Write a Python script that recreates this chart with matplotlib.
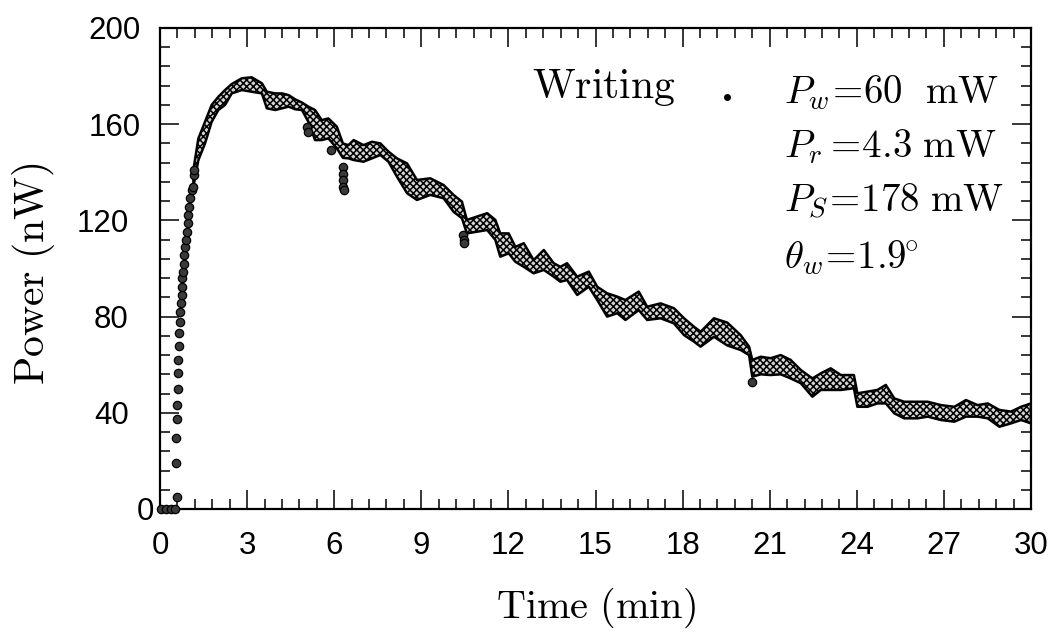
import matplotlib
matplotlib.use('Agg')
import matplotlib.pyplot as plt
from matplotlib.ticker import MultipleLocator, FixedLocator
import matplotlib.transforms as mtransforms

plt.rcParams['mathtext.fontset'] = 'cm'
plt.rcParams['hatch.linewidth'] = 1.1

# ---- data ----
rise_t = [0.02, 0.20, 0.37, 0.53, 0.57, 0.54, 0.54, 0.59, 0.59, 0.61, 0.63, 0.63,
          0.66, 0.66, 0.69, 0.69, 0.72, 0.75, 0.75, 0.77, 0.79, 0.82, 0.84, 0.86,
          0.89, 0.92, 0.95, 0.98, 1.01, 1.05, 1.09, 1.13, 1.18, 1.18]
rise_p = [0, 0, 0, 0, 5, 19.3, 29.6, 37.3, 43.2, 49.8, 56.4, 62,
          67.9, 73.3, 77.9, 82, 85.8, 89, 92.4, 95.9, 98.7, 102, 105.6, 108.8,
          111.9, 115.3, 118.8, 122.2, 125.7, 129.2, 132.6, 134, 138.9, 141]

band_t = [1.15, 1.32, 1.55, 1.78, 2.01, 2.24, 2.47, 2.82, 3.16, 3.51, 3.68, 3.97,
          4.20, 4.43, 4.66, 4.89, 5.11, 5.34, 5.57, 5.80, 6.09, 6.30, 6.49, 6.67,
          7.01, 7.30, 7.59, 7.87, 8.16, 8.51, 8.85, 9.31, 9.77, 10.11, 10.40, 10.57,
          10.92, 11.27, 11.55, 11.72, 12.01, 12.24, 12.53, 12.87, 13.22, 13.56, 13.79, 14.02,
          14.37, 14.77, 15.06, 15.40, 15.75, 16.03, 16.49, 16.78, 17.24, 17.70, 18.05, 18.39,
          18.62, 19.08, 19.54, 20.00, 20.29, 20.40, 20.69, 21.03, 21.38, 21.72, 22.07, 22.47,
          22.76, 23.10, 23.45, 23.90, 24.02, 24.37, 24.71, 25.00, 25.29, 25.63, 26.09, 26.44,
          26.90, 27.36, 27.76, 28.16, 28.51, 28.91, 29.31, 29.66, 30.00]
band_hi = [141, 154, 161, 168, 171.4, 174.2, 176.7, 179.1, 179.5, 177, 173.5, 172.8,
           172.8, 172.1, 170.3, 169, 167.3, 165.9, 161.7, 162.4, 159, 152, 151.3, 153.4,
           151.3, 152.7, 152, 148.6, 145.8, 143.7, 136.8, 137.5, 134.7, 130.6, 127.8, 120.2,
           121.6, 123, 120.2, 114.6, 114.6, 109, 110.5, 103.5, 107.7, 102.2, 100.7, 102.2,
           96.6, 98.7, 92.4, 89.7, 88.3, 86.9, 90.4, 84.1, 85.5, 83.5, 79.3, 75.8,
           73.7, 79.3, 77.5, 72.3, 67.5, 62, 63.3, 62.7, 64, 62, 57.8, 54.3,
           56.4, 58.5, 55.7, 55.7, 48.1, 48.8, 49.5, 51.6, 46, 44.6, 44.6, 44.6,
           43.2, 42.5, 45.3, 43.2, 43.9, 41.2, 40.5, 42.5, 43.9]
band_lo = [134, 145, 152, 161, 165.9, 168, 172.8, 174.2, 173.5, 172.8, 166.6, 165.9,
           166.6, 167.3, 166.2, 165.9, 161, 153.4, 153.4, 154.1, 150, 146, 145.8, 145.1,
           144.4, 145.8, 147.2, 144.4, 138.2, 131.3, 128.5, 130.6, 129.2, 123.6, 120.9, 114.6,
           115.3, 116, 111.9, 104.9, 106.3, 102.8, 100.7, 98, 99.4, 96.6, 94.5, 95.2,
           89, 92.4, 86.9, 80, 81.4, 78.6, 82.7, 78.6, 79.3, 77.2, 72.3, 69.6,
           67.5, 71.6, 68, 66.1, 64, 55, 56, 55.7, 56, 54.3, 52.3, 46.7,
           49.5, 49.5, 49.5, 50.2, 42.5, 42.5, 43.9, 43.9, 39.8, 37.7, 37.7, 38.4,
           37, 36.3, 38.4, 38.4, 37.7, 34.2, 35.6, 37, 35.6]

out_t = [5.05, 5.09, 5.90, 6.30, 6.30, 6.31, 6.32, 6.33, 10.45, 10.46, 10.46, 20.40]
out_p = [159, 156.9, 149.3, 142.3, 139.5, 136.8, 134, 132.6, 114, 112, 110.5, 52.6]

x_ticks = [0, 3, 6, 9, 12, 15, 18, 21, 24, 27, 30]
y_ticks = [0, 40, 80, 120, 160, 200]

# ---- figure ----
fig = plt.figure(figsize=(10.55, 6.35), dpi=100)
ax = fig.add_axes([160 / 1055, 1 - 509 / 635, 871 / 1055, 481 / 635])

ax.fill_between(band_t, band_lo, band_hi, facecolor='#d4d4d4', edgecolor='black',
                hatch='xxxxx', linewidth=1.8, joinstyle='round', zorder=2)
ax.plot(rise_t, rise_p, 'o', ms=6, mfc='#3a3a3a', mec='black', mew=0.9,
        clip_on=False, zorder=3)
ax.plot(out_t, out_p, 'o', ms=6, mfc='#3a3a3a', mec='black', mew=0.9, zorder=3)

ax.set_xlim(0, 30)
ax.set_ylim(0, 200)
ax.xaxis.set_major_locator(FixedLocator(x_ticks))
ax.yaxis.set_major_locator(FixedLocator(y_ticks))
ax.xaxis.set_minor_locator(MultipleLocator(0.6))
ax.yaxis.set_minor_locator(MultipleLocator(8))
ax.set_xticklabels([str(v) for v in x_ticks])
ax.set_yticklabels([str(v) for v in y_ticks])

for s in ax.spines.values():
    s.set_linewidth(1.6)
ax.tick_params(which='both', direction='in', top=True, right=True, width=1.1,
               colors='black')
ax.tick_params(which='major', length=14)
ax.tick_params(which='minor', length=7)
ax.tick_params(axis='x', which='major', pad=16)
ax.tick_params(axis='y', which='major', pad=14)
for lbl in ax.get_xticklabels() + ax.get_yticklabels():
    lbl.set_fontfamily('Liberation Sans')
    lbl.set_fontsize(22.5)

# per-label horizontal shifts of the y tick labels (as in the scan)
y_shift_pt = [10, -8.6, -8.6, -8.6, 0, 0]
for lbl, dx in zip(ax.get_yticklabels(), y_shift_pt):
    lbl.set_transform(lbl.get_transform() +
                      mtransforms.ScaledTranslation(dx / 72, 0, fig.dpi_scale_trans))

ax.set_xlabel(r'$\mathrm{Time\ (min)}$', fontsize=29)
ax.set_ylabel(r'$\mathrm{Power\ (nW)}$', fontsize=30)
ax.xaxis.set_label_coords(0.5, -0.16)
ax.yaxis.set_label_coords(-0.118, 0.49)

# annotations
ax.text(12.81, 171.0, r'$\mathrm{Writing}$', fontsize=30, va='baseline', ha='left')
ax.plot([19.53], [171.3], 'o', ms=4, color='black')
ax.text(21.5, 168.8, r'$P_w\!=\!60\ \ \mathrm{mW}$', fontsize=28, va='baseline', ha='left')
ax.text(21.5, 146.4, r'$P_r\,\!=\!4.3\ \mathrm{mW}$', fontsize=28, va='baseline', ha='left')
ax.text(21.5, 123.5, r'$P_S\!=\!178\ \mathrm{mW}$', fontsize=28, va='baseline', ha='left')
ax.text(21.5, 100.2, r'$\theta_w\!=\!1.9^{\!\!\circ}$', fontsize=28, va='baseline', ha='left')

fig.savefig('out.png', dpi=100)
